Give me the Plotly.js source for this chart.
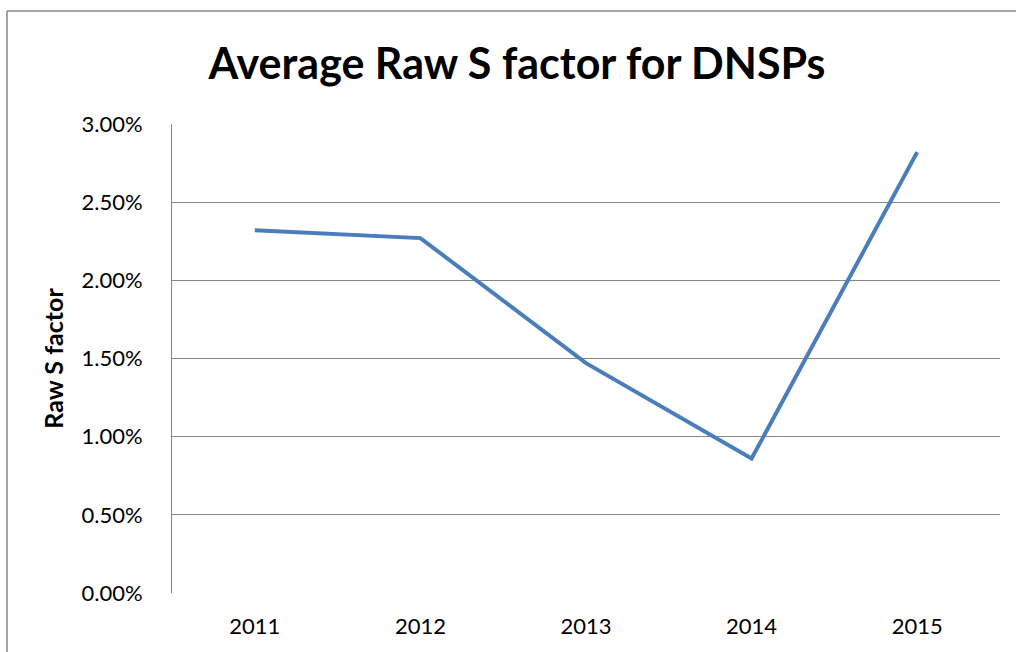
<!DOCTYPE html>
<html>
<head>
<meta charset="utf-8">
<script src="https://cdn.plot.ly/plotly-3.0.1.min.js"></script>
<style>html,body{margin:0;padding:0;background:#fff;overflow:hidden;}#chart{width:1016px;height:652px;}</style>
</head>
<body>
<div id="chart"></div>
<script>
const years = ['2011', '2012', '2013', '2014', '2015'];
const rawS = [0.0232, 0.0227, 0.0147, 0.0086, 0.0282];
const yTicks = [0, 0.005, 0.01, 0.015, 0.02, 0.025, 0.03];

const W = 1016, H = 652;
const L = 172, R = 16, T = 124, B = 59;
const pw = W - L - R, ph = H - T - B;
const FONT = 'Lato, "Open Sans", sans-serif';
const bx0 = (7 - L) / pw, bx1 = (W + 5 - L) / pw;
const by0 = -(B + 5) / ph, by1 = (H - B - 11) / ph;

Plotly.newPlot('chart', [{
  x: years,
  y: rawS,
  type: 'scatter',
  mode: 'lines',
  line: {color: '#4A7EBB', width: 4},
  hoverinfo: 'skip'
}], {
  width: W, height: H,
  margin: {l: L, r: R, t: T, b: B},
  paper_bgcolor: '#fff', plot_bgcolor: '#fff',
  showlegend: false,
  title: {
    text: '<b>Average Raw S factor for DNSPs</b>',
    font: {family: FONT, size: 43, color: '#000'},
    xref: 'container', x: 517 / W, xanchor: 'center',
    yref: 'container', y: 1 - 64 / H, yanchor: 'middle'
  },
  xaxis: {
    type: 'category',
    range: [-0.5, 4.5],
    showgrid: false, zeroline: false, showline: false,
    ticks: '',
    tickfont: {family: FONT, size: 22, color: '#000'},
    ticklabelstandoff: 18
  },
  yaxis: {
    range: [0, 0.03],
    tickvals: yTicks,
    tickformat: '.2%',
    showgrid: true, gridcolor: '#868686', gridwidth: 1,
    zeroline: false,
    showline: true, linecolor: '#868686', linewidth: 1,
    ticks: '',
    tickfont: {family: FONT, size: 22, color: '#000'},
    ticklabelstandoff: 24,
    title: {
      text: '<b>Raw S factor</b>',
      font: {family: FONT, size: 25, color: '#000'},
      standoff: 10
    }
  },
  shapes: [
    {type: 'line', xref: 'paper', yref: 'paper', x0: bx0, x1: bx0, y0: by0, y1: by1,
     line: {color: '#898989', width: 1.5}, layer: 'below'},
    {type: 'line', xref: 'paper', yref: 'paper', x0: bx0, x1: bx1, y0: by1, y1: by1,
     line: {color: '#898989', width: 1.5}, layer: 'below'}
  ]
}, {staticPlot: true});
</script>
</body>
</html>
